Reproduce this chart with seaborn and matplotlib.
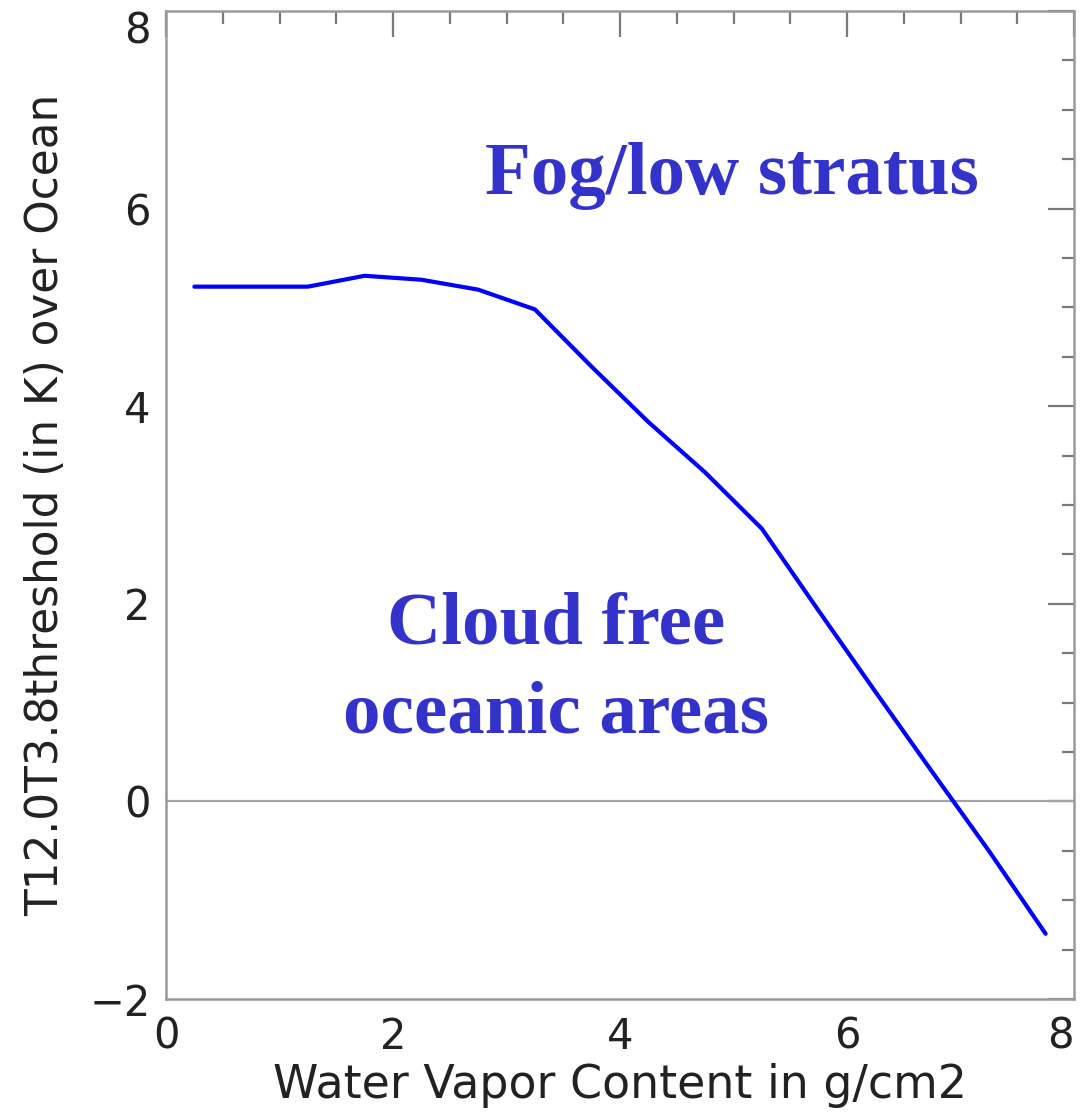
import matplotlib
matplotlib.use("Agg")
import matplotlib.pyplot as plt
from matplotlib.ticker import MultipleLocator
import seaborn as sns
import pandas as pd

# Threshold curve: water vapour content (g/cm2) vs T12.0-T3.8 threshold (K)
water_vapor = [0.25, 0.75, 1.25, 1.75, 2.25, 2.75, 3.25, 3.75, 4.25,
               4.75, 5.25, 5.75, 6.25, 6.75, 7.25, 7.75]
threshold = [5.21, 5.21, 5.21, 5.32, 5.28, 5.18, 4.98, 4.40, 3.84,
             3.33, 2.76, 1.93, 1.11, 0.30, -0.50, -1.34]

x_ticks = [0, 2, 4, 6, 8]
y_ticks = [-2, 0, 2, 4, 6, 8]

df = pd.DataFrame({"wv": water_vapor, "thr": threshold})

sns.set_style("white")
plt.rcParams["font.family"] = ["DejaVu Sans"]

fig = plt.figure(figsize=(10.82, 11.16), dpi=100)
ax = fig.add_axes([166 / 1082, 117 / 1116, 908 / 1082, 988 / 1116])

ax.axhline(0, color="#a4a4a4", lw=1.6, zorder=1)
sns.lineplot(data=df, x="wv", y="thr", ax=ax, color="#0000ff", lw=3.0,
             zorder=3)

ax.set_xlim(0, 8)
ax.set_ylim(-2, 8)
ax.set_xticks(x_ticks)
ax.set_yticks(y_ticks)
ax.xaxis.set_minor_locator(MultipleLocator(0.5))
ax.yaxis.set_minor_locator(MultipleLocator(0.5))
ax.set_xticklabels([str(t) for t in x_ticks])
ax.set_yticklabels([str(t).replace("-", "\u2212") for t in y_ticks])

ax.tick_params(which="both", direction="in", top=True, right=True,
               color="#7a7a7a", labelsize=30, labelcolor="#222222")
ax.tick_params(which="major", length=19, width=1.6)
ax.tick_params(axis="y", which="major", pad=11)
ax.tick_params(axis="x", which="major", pad=12)
ax.tick_params(which="minor", length=9, width=1.6)
for s in ax.spines.values():
    s.set_color("#9a9a9a")
    s.set_linewidth(1.8)

# keep the end labels inside the figure
ax.get_yticklabels()[-1].set_verticalalignment("top")
ax.get_xticklabels()[-1].set_horizontalalignment("right")

ax.set_xlabel("Water Vapor Content in g/cm2", fontsize=33, color="#222222",
              labelpad=4)
ax.set_ylabel("T12.0T3.8threshold (in K) over Ocean", fontsize=31.5,
              color="#222222", labelpad=16)

text_kw = dict(color="#3333cc", fontsize=54, fontweight="bold",
               family="Liberation Serif", ha="center", va="baseline")
ax.text(4.99, 6.15, "Fog/low stratus", **text_kw)
ax.text(3.44, 1.60, "Cloud free", **text_kw)
ax.text(3.44, 0.70, "oceanic areas", **text_kw)

fig.savefig("out.png", dpi=100, facecolor="white")
